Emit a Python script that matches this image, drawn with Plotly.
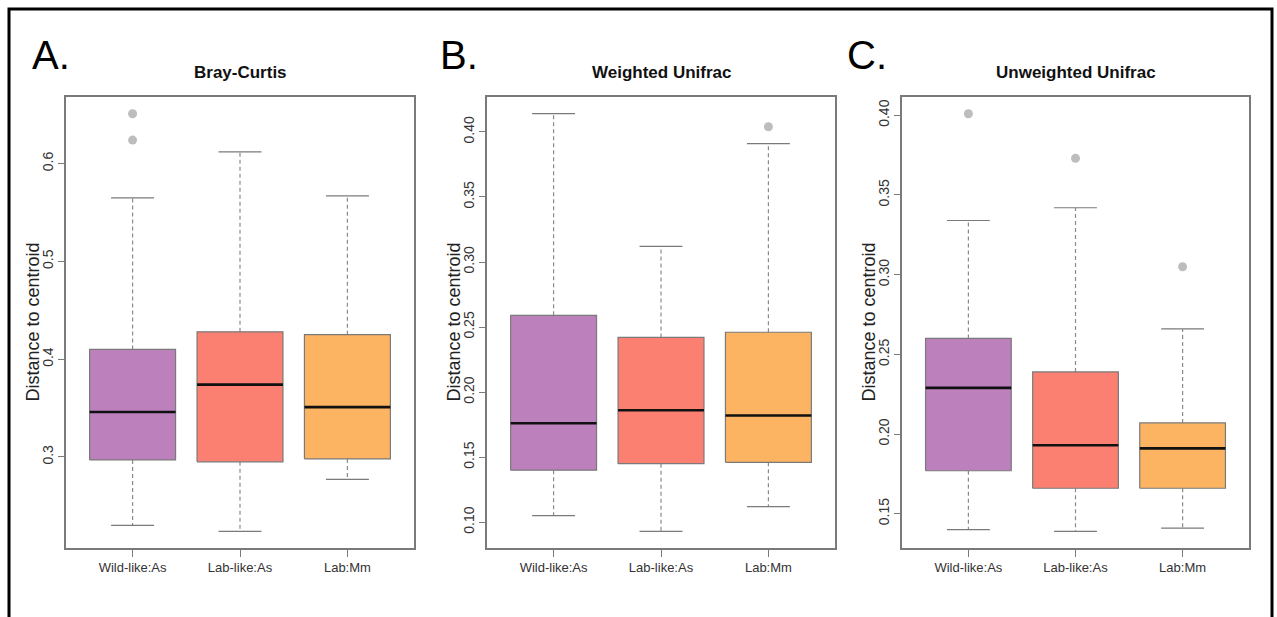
import plotly.graph_objects as go

# ---------------- data ----------------
categories = ["Wild-like:As", "Lab-like:As", "Lab:Mm"]

panel_titles = ["Bray-Curtis", "Weighted Unifrac", "Unweighted Unifrac"]
panel_letters = ["A.", "B.", "C."]
y_title = "Distance to centroid"

bray_lower = [0.230, 0.224, 0.277]
bray_q1 = [0.297, 0.295, 0.298]
bray_median = [0.346, 0.374, 0.351]
bray_q3 = [0.410, 0.428, 0.425]
bray_upper = [0.565, 0.612, 0.567]
bray_outliers = [[0.651, 0.624], [], []]
bray_ticks = [0.3, 0.4, 0.5, 0.6]
bray_ticktext = ["0.3", "0.4", "0.5", "0.6"]

wuni_lower = [0.105, 0.093, 0.112]
wuni_q1 = [0.140, 0.145, 0.146]
wuni_median = [0.176, 0.186, 0.182]
wuni_q3 = [0.259, 0.242, 0.246]
wuni_upper = [0.414, 0.312, 0.391]
wuni_outliers = [[], [], [0.404]]
wuni_ticks = [0.10, 0.15, 0.20, 0.25, 0.30, 0.35, 0.40]
wuni_ticktext = ["0.10", "0.15", "0.20", "0.25", "0.30", "0.35", "0.40"]

uuni_lower = [0.140, 0.139, 0.141]
uuni_q1 = [0.177, 0.166, 0.166]
uuni_median = [0.229, 0.193, 0.191]
uuni_q3 = [0.260, 0.239, 0.207]
uuni_upper = [0.334, 0.342, 0.266]
uuni_outliers = [[0.401], [0.373], [0.305]]
uuni_ticks = [0.15, 0.20, 0.25, 0.30, 0.35, 0.40]
uuni_ticktext = ["0.15", "0.20", "0.25", "0.30", "0.35", "0.40"]

colors = ["#BC80BD", "#FB8072", "#FDB462"]

# ---------------- layout constants ----------------
W, H = 1277, 617
FONT = "Liberation Sans, Arial, sans-serif"
GRAY = "#7a7a7a"
BOX_W = 0.8
CAP_W = 0.4

panels = [
    (bray_lower, bray_q1, bray_median, bray_q3, bray_upper, bray_outliers, bray_ticks, bray_ticktext),
    (wuni_lower, wuni_q1, wuni_median, wuni_q3, wuni_upper, wuni_outliers, wuni_ticks, wuni_ticktext),
    (uuni_lower, uuni_q1, uuni_median, uuni_q3, uuni_upper, uuni_outliers, uuni_ticks, uuni_ticktext),
]

x_pix = [(66, 414), (487, 835), (902, 1249)]
y_pix = (97, 548)
letter_x = [30, 438, 845]

fig = go.Figure()

for p, (lo, q1, md, q3, up, outl, ticks, ticktext) in enumerate(panels):
    xa = "x" if p == 0 else f"x{p + 1}"
    ya = "y" if p == 0 else f"y{p + 1}"
    for i, cat in enumerate(categories):
        xc = i + 1
        # whiskers (dashed)
        fig.add_trace(go.Scatter(
            x=[xc, xc, None, xc, xc], y=[q3[i], up[i], None, q1[i], lo[i]],
            mode="lines", line=dict(color="#8a8a8a", width=1.2, dash="4px,3px"),
            xaxis=xa, yaxis=ya, showlegend=False, hoverinfo="skip"))
        # caps
        fig.add_trace(go.Scatter(
            x=[xc - CAP_W / 2, xc + CAP_W / 2, None, xc - CAP_W / 2, xc + CAP_W / 2],
            y=[up[i], up[i], None, lo[i], lo[i]],
            mode="lines", line=dict(color=GRAY, width=1.2),
            xaxis=xa, yaxis=ya, showlegend=False, hoverinfo="skip"))
        # box
        fig.add_trace(go.Scatter(
            x=[xc - BOX_W / 2, xc + BOX_W / 2, xc + BOX_W / 2, xc - BOX_W / 2, xc - BOX_W / 2],
            y=[q1[i], q1[i], q3[i], q3[i], q1[i]],
            mode="lines", fill="toself", fillcolor=colors[i],
            line=dict(color=GRAY, width=1.2),
            xaxis=xa, yaxis=ya, showlegend=False, name=cat))
        # median
        fig.add_trace(go.Scatter(
            x=[xc - BOX_W / 2, xc + BOX_W / 2], y=[md[i], md[i]],
            mode="lines", line=dict(color="#111111", width=2.6),
            xaxis=xa, yaxis=ya, showlegend=False, hoverinfo="skip"))
        # outliers
        if outl[i]:
            fig.add_trace(go.Scatter(
                x=[xc] * len(outl[i]), y=outl[i], mode="markers",
                marker=dict(color="#BDBDBD", size=9),
                xaxis=xa, yaxis=ya, showlegend=False))

    allv = lo + up + sum(outl, [])
    vmin, vmax = min(allv), max(allv)
    ext = 0.04 * (vmax - vmin)

    x0, x1 = x_pix[p]
    xkey = "xaxis" if p == 0 else f"xaxis{p + 1}"
    ykey = "yaxis" if p == 0 else f"yaxis{p + 1}"
    fig.update_layout(**{
        xkey: dict(
            domain=[x0 / W, x1 / W], anchor=ya, range=[0.38, 3.62],
            tickvals=[1, 2, 3], ticktext=categories,
            showline=True, mirror=True, linecolor=GRAY, linewidth=1.5,
            ticks="outside", ticklen=7, tickcolor=GRAY, tickwidth=1.2,
            showgrid=False, zeroline=False,
            tickfont=dict(family=FONT, size=13, color="#333333")),
        ykey: dict(
            domain=[1 - y_pix[1] / H, 1 - y_pix[0] / H], anchor=xa,
            range=[vmin - ext, vmax + ext],
            tickvals=ticks, ticktext=ticktext, tickangle=-90,
            showline=True, mirror=True, linecolor=GRAY, linewidth=1.5,
            ticks="outside", ticklen=6, tickcolor=GRAY, tickwidth=1.2,
            showgrid=False, zeroline=False,
            tickfont=dict(family=FONT, size=14, color="#333333")),
    })

    fig.add_annotation(
        text=y_title, xref="paper", yref="paper", textangle=-90,
        x=(x0 - 34) / W, y=1 - (y_pix[0] + y_pix[1]) / 2 / H,
        xanchor="center", yanchor="middle", showarrow=False,
        font=dict(family=FONT, size=18, color="#222222"))
    fig.add_annotation(
        text="<b>" + panel_titles[p] + "</b>", xref="paper", yref="paper",
        x=(x0 + x1) / 2 / W, y=1 - 72 / H, xanchor="center", yanchor="middle",
        showarrow=False, font=dict(family=FONT, size=17, color="#111111"))
    fig.add_annotation(
        text=panel_letters[p], xref="paper", yref="paper",
        x=letter_x[p] / W, y=1 - 55 / H, xanchor="left", yanchor="middle",
        showarrow=False, font=dict(family=FONT, size=40, color="#000000"))

fig.add_shape(type="rect", xref="paper", yref="paper",
              x0=9 / W, x1=1272 / W, y0=-0.2, y1=1 - 9 / H,
              line=dict(color="#000000", width=3), fillcolor="rgba(0,0,0,0)")

fig.update_layout(
    width=W, height=H, margin=dict(l=0, r=0, t=0, b=0),
    paper_bgcolor="white", plot_bgcolor="white", showlegend=False,
)

fig.write_html("out.html")
